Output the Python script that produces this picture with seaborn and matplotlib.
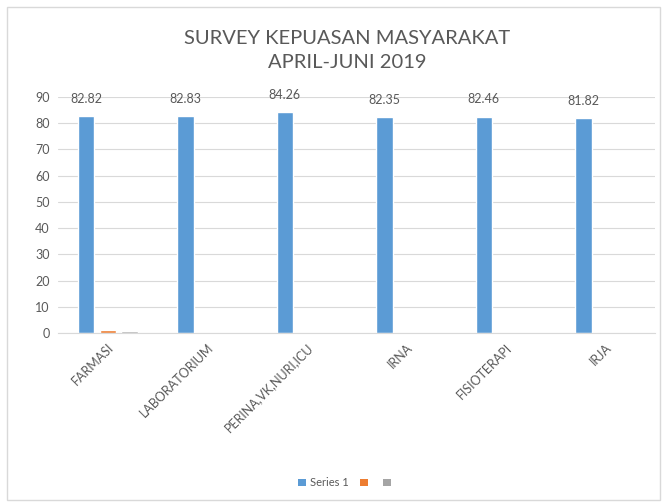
import matplotlib
matplotlib.use("Agg")
import matplotlib.pyplot as plt
import seaborn as sns
import pandas as pd
import numpy as np
from matplotlib.patches import Rectangle, Patch

categories = ["FARMASI", "LABORATORIUM", "PERINA,VK,NURI,ICU", "IRNA", "FISIOTERAPI", "IRJA"]
series1 = [82.82, 82.83, 84.26, 82.35, 82.46, 81.82]
series2 = [1.2, np.nan, np.nan, np.nan, np.nan, np.nan]
series3 = [1.0, np.nan, np.nan, np.nan, np.nan, np.nan]
series_names = ["Series 1", "Series 2", "Series 3"]
legend_labels = ["Series 1", "", ""]
title_text = "SURVEY KEPUASAN MASYARAKAT\nAPRIL-JUNI 2019"
colors = ["#5B9BD5", "#ED7D31", "#A5A5A5"]

rows = []
for s, vals in zip(series_names, [series1, series2, series3]):
    for c, v in zip(categories, vals):
        rows.append({"cat": c, "series": s, "value": v})
df = pd.DataFrame(rows)

sns.set_style("white")
plt.rcParams["font.family"] = ["Lato", "DejaVu Sans"]

fig = plt.figure(figsize=(6.67, 5.04), dpi=100)
ax = fig.add_axes([0.087, 0.339, 0.895, 0.469])

sns.barplot(data=df, x="cat", y="value", hue="series", palette=colors,
            width=0.66, gap=0.25, ax=ax, legend=False, saturation=1)

ax.set_ylim(0, 90)
ax.set_yticks(range(0, 91, 10))
ax.set_xlim(-0.5, len(categories) - 0.5)
ax.yaxis.grid(True, color="#d9d9d9", linewidth=0.8)
ax.set_axisbelow(True)
for sp in ["top", "right", "left"]:
    ax.spines[sp].set_visible(False)
ax.spines["bottom"].set_color("#d9d9d9")
ax.set_xlabel("")
ax.set_ylabel("")
ax.tick_params(axis="both", length=0, labelsize=9, colors="#595959", pad=6)
plt.setp(ax.get_xticklabels(), rotation=45, ha="right", rotation_mode="anchor")

for bar, v in zip(ax.containers[0], series1):
    x = bar.get_x() + bar.get_width() / 2
    ax.text(x, v + 6.5, f"{v:.2f}", ha="center", va="center", fontsize=9,
            color="#595959", clip_on=False)

fig.text(0.52, 0.90, title_text, ha="center", va="center", fontsize=14.5,
         color="#595959", linespacing=1.5)

handles = [Patch(facecolor=c, edgecolor="none") for c in colors]
fig.legend(handles, legend_labels, loc="center", bbox_to_anchor=(0.52, 0.042),
           ncol=3, frameon=False, fontsize=8, handlelength=0.7, handleheight=0.7,
           columnspacing=1.0, handletextpad=0.4, labelcolor="#595959")

fig.patches.append(Rectangle((0.011, 0.008), 0.978, 0.978, transform=fig.transFigure,
                             fill=False, edgecolor="#d9d9d9", linewidth=1))

fig.savefig("out.png", dpi=100)
